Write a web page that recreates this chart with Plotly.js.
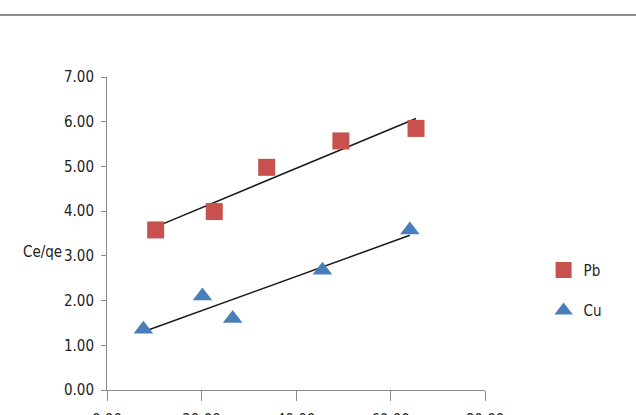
<!DOCTYPE html>
<html>
<head>
<meta charset="utf-8">
<script src="https://cdn.plot.ly/plotly-3.0.1.min.js"></script>
<style>html,body{margin:0;padding:0;background:#fff;overflow:hidden;}#chart{width:636px;height:415px;}</style>
</head>
<body>
<div id="chart"></div>
<script>
// Data
const pbX = [10.3, 22.7, 33.8, 49.5, 65.4];
const pbY = [3.58, 3.99, 4.98, 5.57, 5.85];
const cuX = [7.7, 20.2, 26.6, 45.6, 64.1];
const cuY = [1.36, 2.10, 1.60, 2.68, 3.58];
const xTicks = [0, 20, 40, 60, 80];
const yTicks = [0, 1, 2, 3, 4, 5, 6, 7];
const seriesNames = ['Pb', 'Cu'];
const yTitle = 'Ce/qe';

function fit(xs, ys) {
  const n = xs.length;
  const mx = xs.reduce((a, b) => a + b, 0) / n;
  const my = ys.reduce((a, b) => a + b, 0) / n;
  let sxy = 0, sxx = 0;
  for (let i = 0; i < n; i++) { sxy += (xs[i] - mx) * (ys[i] - my); sxx += (xs[i] - mx) ** 2; }
  const m = sxy / sxx, b = my - m * mx;
  const x0 = Math.min(...xs), x1 = Math.max(...xs);
  return { x: [x0, x1], y: [m * x0 + b, m * x1 + b] };
}
const pbFit = fit(pbX, pbY);
const cuFit = fit(cuX, cuY);

const FONT = 'DejaVu Sans Condensed, DejaVu Sans, sans-serif';

const traces = [
  { x: pbFit.x, y: pbFit.y, mode: 'lines', line: { color: '#1a1a1a', width: 1.5 }, showlegend: false, hoverinfo: 'skip' },
  { x: cuFit.x, y: cuFit.y, mode: 'lines', line: { color: '#1a1a1a', width: 1.5 }, showlegend: false, hoverinfo: 'skip' },
  { x: pbX, y: pbY, name: seriesNames[0], mode: 'markers', legendgroup: 'a',
    marker: { symbol: 'square', size: 17, color: '#C8504D' } },
  { x: cuX, y: cuY, name: seriesNames[1], mode: 'markers', legendgroup: 'b',
    marker: { symbol: 'triangle-up', size: 17, color: '#4A7EBB' } }
];

const layout = {
  width: 636, height: 415,
  margin: { l: 107, r: 151, t: 77, b: 25 },
  paper_bgcolor: '#fff', plot_bgcolor: '#fff',
  font: { family: FONT, size: 15, color: '#222' },
  showlegend: true,
  legend: { x: 1.155, y: 0.435, xanchor: 'left', yanchor: 'top', tracegroupgap: 18,
            font: { family: FONT, size: 15, color: '#222' }, itemwidth: 30 },
  xaxis: {
    range: [0, 80], tickvals: xTicks, tickformat: '.2f',
    showgrid: false, zeroline: false, showline: true, linecolor: '#8a8a8a', linewidth: 1,
    ticks: 'outside', ticklen: 10, tickcolor: '#8a8a8a', ticklabelstandoff: 6
  },
  yaxis: {
    range: [0, 7], tickvals: yTicks, tickformat: '.2f',
    showgrid: false, zeroline: false, showline: true, linecolor: '#8a8a8a', linewidth: 1,
    ticks: 'outside', ticklen: 5, tickcolor: '#8a8a8a', ticklabelstandoff: 4
  },
  annotations: [
    { text: yTitle, xref: 'paper', yref: 'paper', x: -0.17, y: (390 - 252) / 313,
      xanchor: 'center', yanchor: 'middle', showarrow: false,
      font: { family: FONT, size: 15, color: '#222' } }
  ],
  shapes: [
    { type: 'line', xref: 'paper', yref: 'paper', x0: -0.3, x1: 1.45,
      y0: (390 - 15) / 313, y1: (390 - 15) / 313, line: { color: '#8c8c8c', width: 2 } }
  ]
};

Plotly.newPlot('chart', traces, layout, { displayModeBar: false, staticPlot: true });
</script>
</body>
</html>
